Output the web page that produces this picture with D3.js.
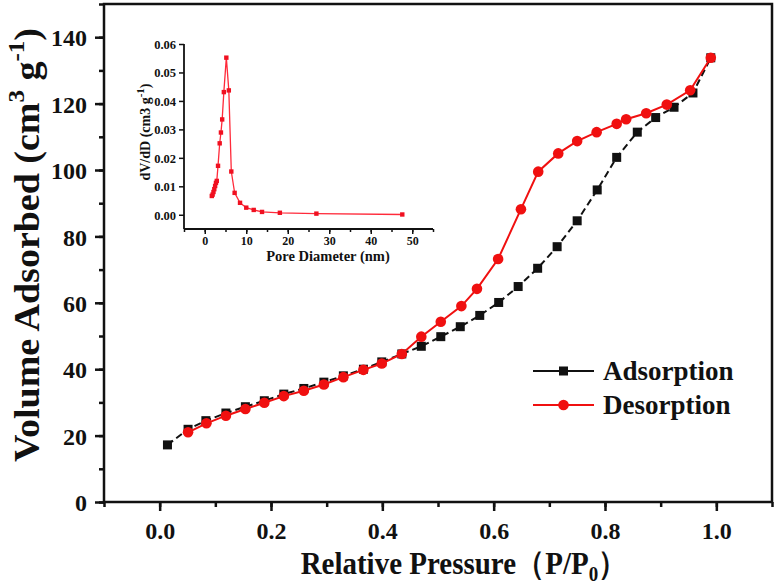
<!DOCTYPE html>
<html><head><meta charset="utf-8">
<script src="https://cdn.jsdelivr.net/npm/d3@7"></script>
<style>
html,body{margin:0;padding:0;background:#fff;}
svg{display:block;}
text{font-family:"Liberation Serif","Times New Roman",serif;font-weight:bold;fill:#111;}
</style></head>
<body>
<script>
// ---- data ----
const adsP = [0.014,0.051,0.083,0.119,0.154,0.188,0.223,0.259,0.295,0.330,0.366,0.399,0.435,0.470,0.505,0.540,0.575,0.609,0.644,0.679,0.714,0.750,0.786,0.821,0.858,0.891,0.924,0.958,0.990];
const adsV = [17.2,21.9,24.5,26.8,28.7,30.5,32.5,34.2,36.1,38.0,40.0,42.2,44.6,46.9,49.8,52.8,56.2,60.1,64.9,70.4,76.9,84.7,94.0,103.8,111.4,115.8,118.9,123.2,133.8];
const desP = [0.051,0.084,0.119,0.154,0.188,0.223,0.259,0.295,0.330,0.366,0.399,0.435,0.470,0.505,0.542,0.570,0.608,0.649,0.680,0.716,0.750,0.785,0.821,0.838,0.874,0.911,0.953,0.990];
const desV = [21.0,23.7,26.0,28.0,29.9,31.9,33.5,35.4,37.6,39.8,41.7,44.6,49.8,54.3,59.0,64.2,73.2,88.2,99.5,105.0,108.7,111.4,113.9,115.3,117.1,119.7,124.0,133.8];
const poreD = [1.7,1.9,2.1,2.3,2.5,2.7,2.9,3.2,3.6,3.9,4.2,4.6,5.2,5.8,6.4,7.2,8.5,10.0,11.8,13.8,18.1,26.9,47.6];
const poreV = [0.0066,0.0071,0.0080,0.0090,0.0101,0.0112,0.0119,0.0172,0.0251,0.0289,0.0335,0.0431,0.0552,0.0437,0.0152,0.0077,0.0042,0.0025,0.0017,0.0010,0.0007,0.0004,0.0001];
const xTicks = [0.0,0.2,0.4,0.6,0.8,1.0];
const yTicks = [0,20,40,60,80,100,120,140];
const inXTicks = [0,10,20,30,40,50];
const inYTicks = [0.00,0.01,0.02,0.03,0.04,0.05,0.06];
const seriesNames = ["Adsorption","Desorption"];

const W=777,H=587;
const svg=d3.select("body").append("svg").attr("width",W).attr("height",H);

// ---- main chart ----
const x=d3.scaleLinear().domain([-0.1,1.1]).range([104,772]);
const y=d3.scaleLinear().domain([0,150]).range([502,4]);

const gx=svg.append("g").attr("transform",`translate(0,${y(0)})`);
gx.call(d3.axisBottom(x).tickValues(d3.range(-1,12).map(d=>d/10)).tickSize(5).tickFormat(""));
gx.select(".domain").remove();
const gx2=svg.append("g").attr("transform",`translate(0,${y(0)})`);
gx2.call(d3.axisBottom(x).tickValues(xTicks).tickSize(9).tickPadding(8).tickFormat(d3.format(".1f")));
gx2.select(".domain").remove();
gx2.selectAll("text").attr("font-size",24).attr("dy","0.85em");

const gy=svg.append("g").attr("transform",`translate(${x(-0.1)},0)`);
gy.call(d3.axisLeft(y).tickValues(d3.range(0,151,10)).tickSize(5).tickFormat(""));
gy.select(".domain").remove();
const gy2=svg.append("g").attr("transform",`translate(${x(-0.1)},0)`);
gy2.call(d3.axisLeft(y).tickValues(yTicks).tickSize(9).tickPadding(8));
gy2.select(".domain").remove();
gy2.selectAll("text").attr("font-size",24).attr("dy","0.36em");
[gx,gx2,gy,gy2].forEach(g=>g.selectAll("line").attr("stroke","#111").attr("stroke-width",2.5));

// frame
svg.append("rect").attr("x",x(-0.1)).attr("y",y(150)).attr("width",x(1.1)-x(-0.1)).attr("height",y(0)-y(150))
  .attr("fill","none").attr("stroke","#111").attr("stroke-width",2.5);

// axis titles
svg.append("text").attr("transform",`translate(464,574) scale(1,1.12)`).attr("text-anchor","middle").attr("font-size",29)
  .call(t=>{t.append("tspan").text("Relative Pressure（P/P");
    t.append("tspan").attr("font-size",19).attr("dy",6).text("0");
    t.append("tspan").attr("dy",-6).text("）");});
svg.append("text").attr("transform",`translate(39,245) rotate(-90) scale(1,0.92)`).attr("text-anchor","middle").attr("font-size",38)
  .call(t=>{t.append("tspan").text("Volume Adsorbed (cm");
    t.append("tspan").attr("font-size",25).attr("dy",-16).text("3");
    t.append("tspan").attr("dy",16).text(" g");
    t.append("tspan").attr("font-size",25).attr("dy",-16).text("-1");
    t.append("tspan").attr("dy",16).text(")");});

// series
const ads=adsP.map((p,i)=>[p,adsV[i]]);
const des=desP.map((p,i)=>[p,desV[i]]);
const line=d3.line().x(d=>x(d[0])).y(d=>y(d[1]));
svg.append("path").datum(ads).attr("d",line).attr("fill","none").attr("stroke","#111").attr("stroke-width",2).attr("stroke-dasharray","7,4");
svg.selectAll(".sq").data(ads).enter().append("rect").attr("x",d=>x(d[0])-4.5).attr("y",d=>y(d[1])-4.5).attr("width",9).attr("height",9).attr("fill","#111");
svg.append("path").datum(des).attr("d",line).attr("fill","none").attr("stroke","#f01010").attr("stroke-width",2);
svg.selectAll(".ci").data(des).enter().append("circle").attr("cx",d=>x(d[0])).attr("cy",d=>y(d[1])).attr("r",5.3).attr("fill","#f01010");

// legend
const lg=svg.append("g");
[[371,"#111"],[405,"#f01010"]].forEach((o,i)=>{
  lg.append("line").attr("x1",533).attr("x2",594).attr("y1",o[0]).attr("y2",o[0]).attr("stroke",o[1]).attr("stroke-width",2);
  if(i===0) lg.append("rect").attr("x",559).attr("y",o[0]-4.5).attr("width",9).attr("height",9).attr("fill",o[1]);
  else lg.append("circle").attr("cx",563.5).attr("cy",o[0]).attr("r",5.3).attr("fill",o[1]);
  lg.append("text").attr("x",603).attr("y",o[0]+9).attr("font-size",27).text(seriesNames[i]);
});

// ---- inset ----
const ix=d3.scaleLinear().domain([-5,55]).range([184,433]);
const iy=d3.scaleLinear().domain([-0.005,0.06]).range([229,44]);
const ig=svg.append("g");
const igx=ig.append("g").attr("transform",`translate(0,${iy(-0.005)})`);
igx.call(d3.axisBottom(ix).tickValues(d3.range(-5,56,5)).tickSize(3).tickFormat(""));
igx.select(".domain").remove();
const igx2=ig.append("g").attr("transform",`translate(0,${iy(-0.005)})`);
igx2.call(d3.axisBottom(ix).tickValues(inXTicks).tickSize(5).tickPadding(2));
igx2.select(".domain").remove();
igx2.selectAll("text").attr("font-size",12).attr("dy","0.72em");
const igy=ig.append("g").attr("transform",`translate(${ix(-5)},0)`);
igy.call(d3.axisLeft(iy).tickValues(inYTicks).tickSize(5).tickPadding(3).tickFormat(d3.format(".2f")));
igy.select(".domain").remove();
igy.selectAll("text").attr("font-size",12.5).attr("dy","0.35em");
ig.selectAll("line").attr("stroke","#111").attr("stroke-width",1.5);
ig.append("line").attr("x1",ix(-5)).attr("x2",ix(55)).attr("y1",iy(-0.005)).attr("y2",iy(-0.005)).attr("stroke","#111").attr("stroke-width",1.8);
ig.append("line").attr("x1",ix(-5)).attr("x2",ix(-5)).attr("y1",iy(-0.005)).attr("y2",iy(0.06)).attr("stroke","#111").attr("stroke-width",1.8);

const pore=poreD.map((d,i)=>[d,poreV[i]]);
ig.append("path").datum(pore).attr("d",d3.line().x(d=>ix(d[0])).y(d=>iy(d[1]))).attr("fill","none").attr("stroke","#ff2a3a").attr("stroke-width",1.3);
ig.selectAll(".ps").data(pore).enter().append("rect").attr("x",d=>ix(d[0])-2.2).attr("y",d=>iy(d[1])-2.2).attr("width",4.4).attr("height",4.4).attr("fill","#f01020");

ig.append("text").attr("x",328).attr("y",261).attr("text-anchor","middle").attr("font-size",14.5).text("Pore Diameter (nm)");
ig.append("text").attr("transform",`translate(150,132) rotate(-90)`).attr("text-anchor","middle").attr("font-size",14)
  .call(t=>{t.append("tspan").text("dV/dD (cm3 g");
    t.append("tspan").attr("font-size",11).attr("dy",-6).text("-1");
    t.append("tspan").attr("dy",6).text(")");});
</script>
</body></html>
